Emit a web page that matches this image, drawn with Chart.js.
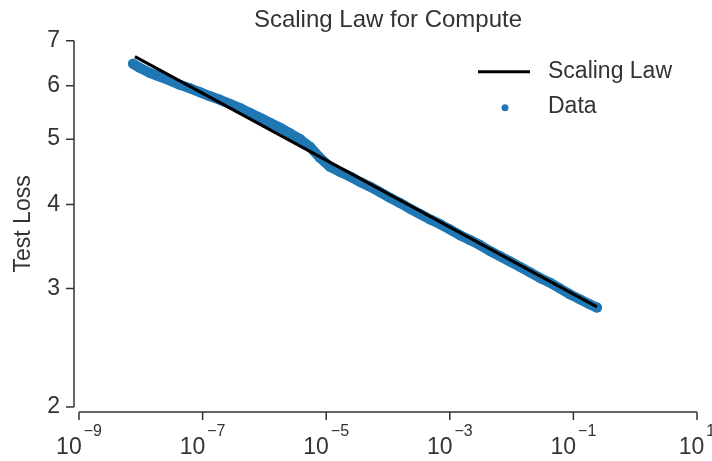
<!DOCTYPE html>
<html>
<head>
<meta charset="utf-8">
<title>Scaling Law for Compute</title>
<script src="https://cdn.jsdelivr.net/npm/chart.js@4.4.0/dist/chart.umd.min.js"></script>
<style>
  html, body { margin: 0; padding: 0; background: #fff; }
  #wrap { width: 712px; height: 461px; position: relative; }
</style>
</head>
<body>
<div id="wrap"><canvas id="lossChart"></canvas></div>
<script>
// Test loss vs. compute (PF-days), both axes log scale

// Measured runs
const computeX = [7.48e-9, 9.7e-9, 1.41e-8, 2.05e-8, 2.97e-8, 4.30e-8, 6.25e-8, 9.08e-8,
  1.32e-7, 1.91e-7, 2.77e-7, 4.03e-7, 5.85e-7, 8.49e-7, 1.23e-6, 1.79e-6,
  2.59e-6, 3.77e-6, 5.47e-6, 7.94e-6, 1.15e-5, 1.67e-5, 2.43e-5, 3.52e-5,
  5.12e-5, 7.43e-5, 1.08e-4, 1.56e-4, 2.27e-4, 3.30e-4, 4.79e-4, 6.94e-4,
  1.01e-3, 1.46e-3, 2.12e-3, 3.08e-3, 4.47e-3, 6.49e-3, 9.42e-3, 1.37e-2,
  1.99e-2, 2.88e-2, 4.18e-2, 6.07e-2, 8.81e-2, 0.128, 0.186, 0.241];
const lossY = [6.47, 6.38, 6.27, 6.19, 6.11, 6.02, 5.95, 5.87,
  5.79, 5.72, 5.64, 5.56, 5.47, 5.38, 5.29, 5.20,
  5.10, 5.00, 4.87, 4.69, 4.55, 4.47, 4.40, 4.32,
  4.25, 4.17, 4.09, 4.02, 3.94, 3.87, 3.80, 3.74,
  3.67, 3.60, 3.54, 3.48, 3.41, 3.35, 3.29, 3.23,
  3.17, 3.11, 3.06, 3.00, 2.94, 2.89, 2.84, 2.81];

// Power-law fit (straight on log-log, so the two end points are enough)
const fitX = [8.05e-9, 0.241];
const fitY = [6.63, 2.817];

// Axis ticks
const xTicks = [1e-9, 1e-7, 1e-5, 1e-3, 1e-1, 1e1];
const xTickExponents = ['\u22129', '\u22127', '\u22125', '\u22123', '\u22121', '1'];
const yTicks = [2, 3, 4, 5, 6, 7];

const FONT = "'Liberation Sans', Arial, sans-serif";
const INK = '#333333';
const BLUE = '#1f77b4';

// Offset spines, tick marks, 10^n labels and the inset legend
const axesDecor = {
    id: 'axesDecor',
    afterDraw(chart) {
        const { ctx, chartArea: area, scales: { x, y } } = chart;
        const off = 5, tick = 8;
        ctx.save();
        ctx.strokeStyle = INK;
        ctx.lineWidth = 1.5;

        ctx.beginPath();
        const sx = area.left - off;
        ctx.moveTo(sx, y.getPixelForValue(yTicks[yTicks.length - 1]));
        ctx.lineTo(sx, y.getPixelForValue(yTicks[0]));
        yTicks.forEach(v => {
            const py = y.getPixelForValue(v);
            ctx.moveTo(sx - tick, py);
            ctx.lineTo(sx, py);
        });
        const sy = area.bottom + off;
        ctx.moveTo(x.getPixelForValue(xTicks[0]), sy);
        ctx.lineTo(x.getPixelForValue(xTicks[xTicks.length - 1]), sy);
        xTicks.forEach(v => {
            const px = x.getPixelForValue(v);
            ctx.moveTo(px, sy);
            ctx.lineTo(px, sy + tick);
        });
        ctx.stroke();

        // x tick labels as 10 with a raised exponent
        ctx.fillStyle = INK;
        ctx.textAlign = 'left';
        ctx.textBaseline = 'alphabetic';
        xTicks.forEach((v, i) => {
            const px = x.getPixelForValue(v);
            ctx.font = `23px ${FONT}`;
            const wBase = ctx.measureText('10').width;
            ctx.font = `16px ${FONT}`;
            const wExp = ctx.measureText(xTickExponents[i]).width;
            const left = px - (wBase + 2 + wExp) / 2;
            ctx.font = `23px ${FONT}`;
            ctx.fillText('10', left, sy + 42);
            ctx.font = `16px ${FONT}`;
            ctx.fillText(xTickExponents[i], left + wBase + 2, sy + 24);
        });

        // legend, upper right inside the axes
        const [fit, data] = chart.data.datasets;
        const row1 = area.top + 31, row2 = area.top + 66;
        const textX = area.right - 149;
        ctx.strokeStyle = fit.borderColor;
        ctx.lineWidth = fit.borderWidth;
        ctx.beginPath();
        ctx.moveTo(area.right - 219, row1);
        ctx.lineTo(area.right - 167, row1);
        ctx.stroke();
        ctx.fillStyle = data.backgroundColor;
        ctx.beginPath();
        ctx.arc(area.right - 192, row2 + 1, 3.5, 0, Math.PI * 2);
        ctx.fill();
        ctx.fillStyle = INK;
        ctx.font = `23px ${FONT}`;
        ctx.textBaseline = 'middle';
        ctx.fillText(fit.label, textX, row1);
        ctx.fillText(data.label, textX, row2);
        ctx.restore();
    }
};

new Chart(document.getElementById('lossChart'), {
    type: 'scatter',
    data: {
        datasets: [{
            label: 'Scaling Law',
            data: fitX.map((v, i) => ({ x: v, y: fitY[i] })),
            showLine: true,
            borderColor: '#000000',
            borderWidth: 3,
            pointRadius: 0,
            order: 0
        }, {
            label: 'Data',
            data: computeX.map((v, i) => ({ x: v, y: lossY[i] })),
            showLine: true,
            borderColor: BLUE,
            backgroundColor: BLUE,
            borderWidth: 10,
            borderJoinStyle: 'round',
            borderCapStyle: 'round',
            pointRadius: 5,
            pointBorderWidth: 0,
            pointBackgroundColor: BLUE,
            order: 1
        }]
    },
    options: {
        responsive: true,
        maintainAspectRatio: false,
        animation: false,
        layout: {
            padding: { top: 0, right: 15, bottom: 0, left: 0 }
        },
        plugins: {
            legend: { display: false },
            tooltip: { enabled: false },
            title: {
                display: true,
                text: 'Scaling Law for Compute',
                fullSize: false,
                color: INK,
                font: { family: FONT, size: 24, weight: 'normal' },
                padding: { top: 6, bottom: 6 }
            }
        },
        scales: {
            x: {
                type: 'logarithmic',
                min: 1e-9,
                max: 10,
                grid: { display: false, drawTicks: false },
                border: { display: false },
                ticks: { display: false },
                afterBuildTicks: s => { s.ticks = xTicks.map(v => ({ value: v })); },
                afterFit: s => { s.height = 54; }
            },
            y: {
                type: 'logarithmic',
                min: 2,
                max: 7,
                grid: { display: false, drawTicks: false },
                border: { display: false },
                ticks: {
                    color: INK,
                    padding: 19,
                    font: { family: FONT, size: 23 },
                    callback: v => String(v)
                },
                afterBuildTicks: s => { s.ticks = yTicks.map(v => ({ value: v })); },
                afterFit: s => { s.width = 79; },
                title: {
                    display: true,
                    text: 'Test Loss',
                    color: INK,
                    font: { family: FONT, size: 23 },
                    padding: { top: 10 }
                }
            }
        }
    },
    plugins: [axesDecor]
});
</script>
</body>
</html>
